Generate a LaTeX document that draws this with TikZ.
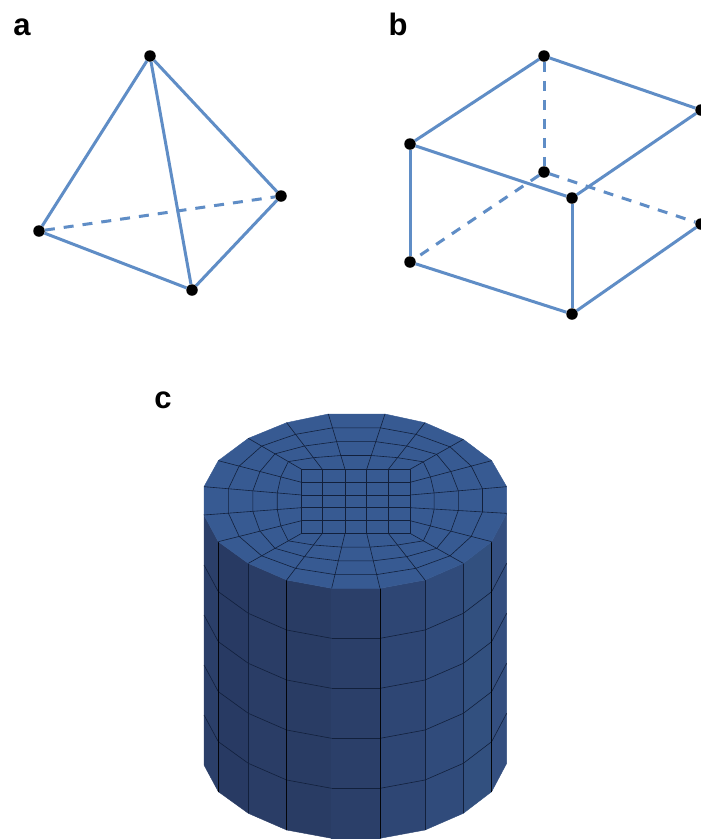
\documentclass[tikz,border=0pt]{standalone}
\usepackage{fontspec}
\setmainfont{Liberation Sans}
\usetikzlibrary{calc}
\definecolor{edgeblue}{HTML}{5F8DC6}
\definecolor{topface}{HTML}{375A92}
\definecolor{meshline}{HTML}{12203C}
\tikzset{
  dotnode/.style={circle,fill=black,inner sep=0pt,minimum size=11.5pt},
  solidedge/.style={draw=edgeblue,line width=3pt},
  dashedge/.style={draw=edgeblue,line width=3pt,dash pattern=on 10pt off 9pt},
  panel/.style={font=\bfseries\fontsize{31}{31}\selectfont,text=black,inner sep=0pt,anchor=base},
  mesh/.style={draw=meshline,line width=0.6pt,line join=round},
  meshdark/.style={draw=black!85!meshline,line width=0.9pt},
}
\begin{document}
\begin{tikzpicture}[x=1pt,y=-1pt]
\clip (0,0) rectangle (701,839);
\fill[white] (0,0) rectangle (701,839);
% labels
\node[panel] (la) at (22,35) {a};
\node[panel] (lb) at (398,35) {b};
\node[panel] (lc) at (163,408) {c};
% tetrahedron
\node[dotnode] (ta) at (150,56) {};
\node[dotnode] (tl) at (39,231) {};
\node[dotnode] (tb) at (192,290) {};
\node[dotnode] (tr) at (281,196) {};
\draw[solidedge] (ta) -- (tl);
\draw[solidedge] (ta) -- (tb);
\draw[solidedge] (ta) -- (tr);
\draw[solidedge] (tl) -- (tb);
\draw[solidedge] (tb) -- (tr);
\draw[dashedge] (tl) -- (tr);
% hexahedron
\node[dotnode] (ba) at (544,56) {};
\node[dotnode] (bl) at (410,144) {};
\node[dotnode] (bf) at (572,198) {};
\node[dotnode] (br) at (701,110) {};
\node[dotnode] (bi) at (544,172) {};
\node[dotnode] (bm) at (410,262) {};
\node[dotnode] (bn) at (572,314) {};
\node[dotnode] (bs) at (701,224) {};
\draw[solidedge] (ba) -- (bl);
\draw[solidedge] (ba) -- (br);
\draw[solidedge] (bl) -- (bf);
\draw[solidedge] (bf) -- (br);
\draw[solidedge] (bl) -- (bm);
\draw[solidedge] (bf) -- (bn);
\draw[solidedge] (bm) -- (bn);
\draw[solidedge] (bn) -- (bs);
\draw[dashedge] (ba) -- (bi);
\draw[dashedge] (bi) -- (bm);
\draw[dashedge] (bi) -- (bs);
% cylinder (coordinates read from a 3x view)
\begin{scope}[shift={(190,400)},x=0.33333pt,y=-0.33333pt]
\foreach \i/\x/\y in {0/415/42,1/585/42,2/705/68,3/820/118,4/905/182,5/950/260,6/950/340,7/905/425,8/820/490,9/705/540,10/570/565,11/425/565,12/290/540,13/175/490,14/85/425,15/42/345,16/42/260,17/85/182,18/175/115,19/290/68}
  \coordinate (o\i) at (\x,\y);
\foreach \i/\x/\y in {0/465/208,1/530/208,2/595/208,3/660/208,4/660/247,5/660/285,6/660/323,7/660/362,8/660/400,9/595/400,10/530/400,11/465/400,12/397/400,13/335/400,14/335/362,15/335/323,16/335/285,17/335/247,18/335/208,19/397/208}
  \coordinate (n\i) at (\x,\y);
% side facets, left to right
\foreach \a/\b/\c in {15/14/2B3F69,14/13/283A63,13/12/2A3D66,12/11/293C64,11/10/2B3F69,10/9/2E4674,9/8/304B7B,8/7/32507F,7/6/344F80}{
  \definecolor{facetcol}{HTML}{\c}
  \filldraw[fill=facetcol,draw=facetcol,line width=0.4pt] (o\a) -- (o\b) -- ($(o\b)+(0,750)$) -- ($(o\a)+(0,750)$) -- cycle;
}
% horizontal rows on the side
\foreach \k in {150,300,450,600}{
  \foreach \a/\b in {15/14,14/13,13/12,12/11,11/10,10/9,9/8,8/7,7/6}
    \draw[mesh] ($(o\a)+(0,\k)$) -- ($(o\b)+(0,\k)$);
}
% vertical edges on the side
\foreach \a in {13,9,8}
  \draw[mesh] (o\a) -- ($(o\a)+(0,750)$);
\foreach \a in {14,12,10,7}
  \draw[meshdark] (o\a) -- ($(o\a)+(0,750)$);
% top face
\filldraw[fill=topface,draw=topface,line width=0.4pt] (o0) \foreach \j in {1,...,19}{ -- (o\j)} -- cycle;
% rings between the outer polygon and the inner rectangle
\foreach \k/\t in {1/0.25,2/0.5,3/0.75}{
  \foreach \j in {0,...,19}
    \coordinate (r\k-\j) at ($(o\j)!\t!(n\j)$);
  \draw[mesh] (r\k-0) \foreach \j in {1,...,19}{ -- (r\k-\j)} -- cycle;
}
% radial lines
\foreach \j in {0,...,19}
  \draw[mesh] (o\j) -- (n\j);
% inner grid
\draw[mesh] (n18) -- (n3) -- (n8) -- (n13) -- cycle;
\draw[mesh] (n17) -- (n4);
\draw[mesh] (n16) -- (n5);
\draw[mesh] (n15) -- (n6);
\draw[mesh] (n14) -- (n7);
\draw[mesh] (n19) -- (n12);
\draw[mesh] (n0) -- (n11);
\draw[mesh] (n1) -- (n10);
\draw[mesh] (n2) -- (n9);
\end{scope}
\end{tikzpicture}
\end{document}
